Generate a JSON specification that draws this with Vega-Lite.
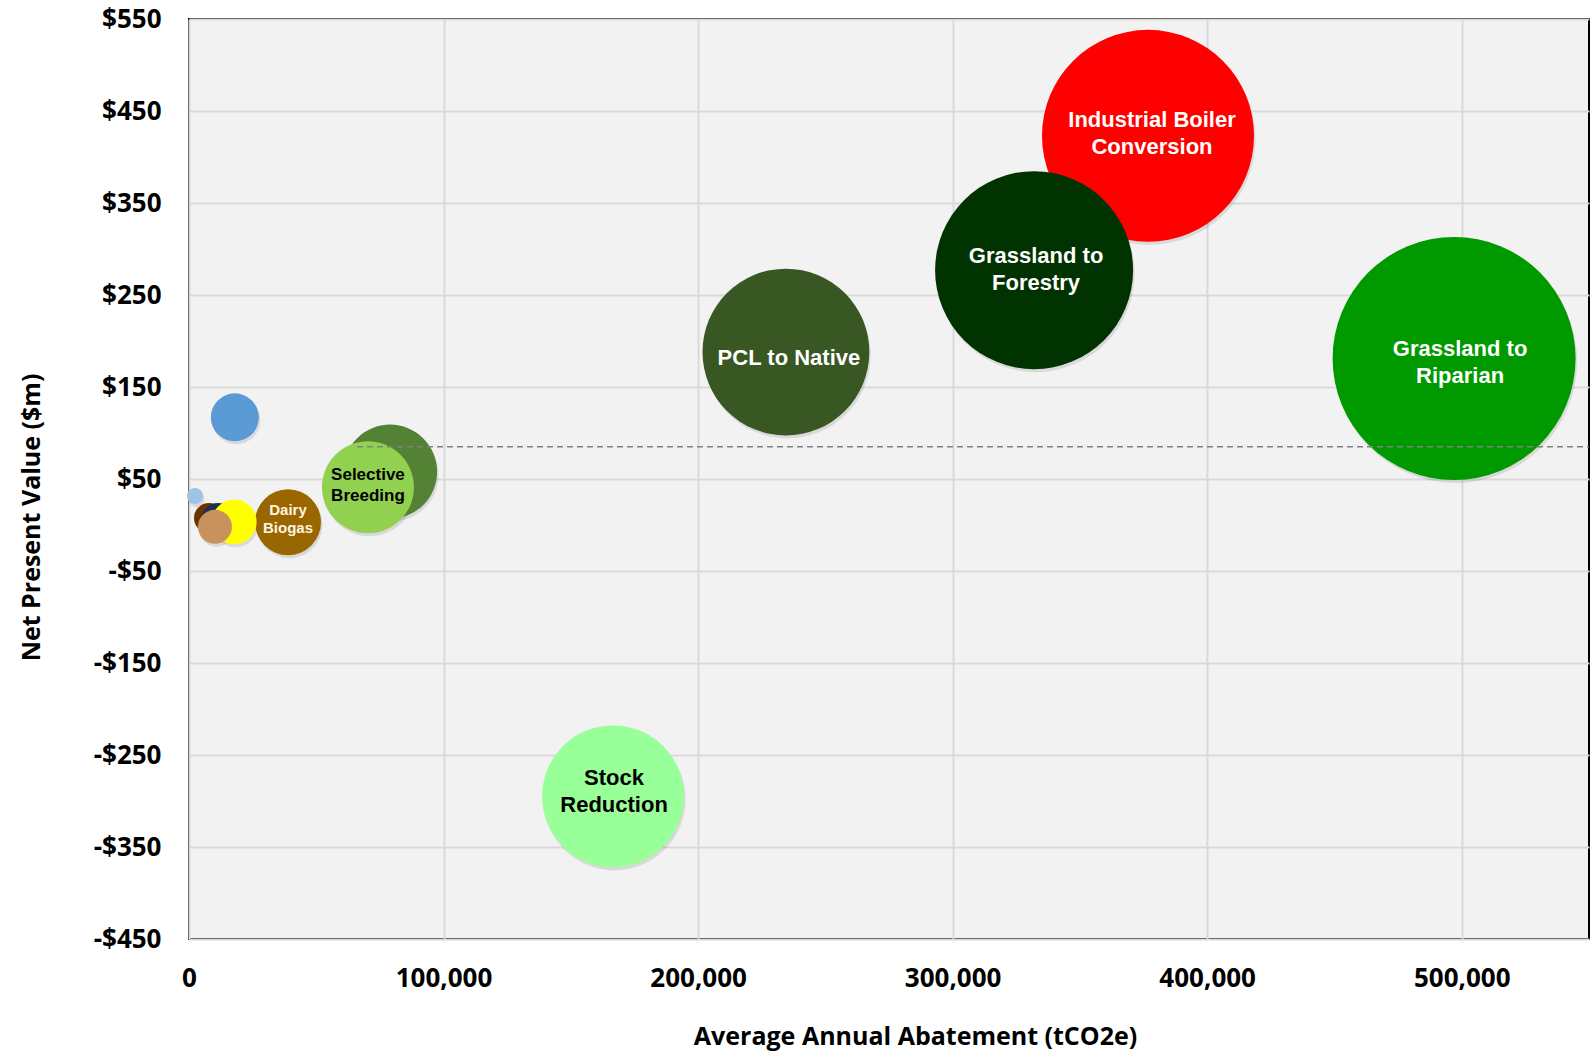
{
  "$schema": "https://vega.github.io/schema/vega-lite/v6.json",
  "autosize": "none",
  "width": 1400,
  "height": 920,
  "padding": {"left": 189, "top": 19, "right": 5, "bottom": 112},
  "background": "#ffffff",
  "config": {
    "view": {"fill": "#f2f2f2", "stroke": "#000000", "strokeWidth": 2},
    "axis": {
      "labelFont": "Open Sans", "labelFontWeight": "bold", "labelFontSize": 26, "labelColor": "#000000",
      "titleFont": "Open Sans", "titleFontWeight": "bold", "titleFontSize": 25, "titleColor": "#000000",
      "gridColor": "#d9d9d9", "gridWidth": 2, "domain": false, "ticks": false, "labelFlush": false
    },
    "text": {"font": "Liberation Sans", "fontWeight": "bold", "align": "center", "baseline": "middle", "lineBreak": "\n"}
  },
  "datasets": {
    "bubbles": [
      {"name": "Grassland to Riparian", "label": "Grassland to\nRiparian", "abatement": 497000, "npv": 181, "bubble": 14762},
      {"name": "Industrial Boiler Conversion", "label": "Industrial Boiler\nConversion", "abatement": 376750, "npv": 423, "bubble": 11236},
      {"name": "Grassland to Forestry", "label": "Grassland to\nForestry", "abatement": 332000, "npv": 277, "bubble": 9801},
      {"name": "PCL to Native", "label": "PCL to Native", "abatement": 234500, "npv": 188, "bubble": 6956},
      {"name": "Stock Reduction", "label": "Stock\nReduction", "abatement": 166600, "npv": -295, "bubble": 5041},
      {"name": "Other Green", "label": "", "abatement": 79000, "npv": 58, "bubble": 2209},
      {"name": "Selective Breeding", "label": "Selective\nBreeding", "abatement": 70300, "npv": 41, "bubble": 2116},
      {"name": "Other Blue", "label": "", "abatement": 18000, "npv": 117, "bubble": 576},
      {"name": "Dairy Biogas", "label": "Dairy\nBiogas", "abatement": 38900, "npv": 3, "bubble": 1089},
      {"name": "Other Brown", "label": "", "abatement": 7860, "npv": 7.6, "bubble": 225},
      {"name": "Other Navy", "label": "", "abatement": 11400, "npv": 5.4, "bubble": 289},
      {"name": "Other Yellow", "label": "", "abatement": 17800, "npv": 3.3, "bubble": 500},
      {"name": "Other Tan", "label": "", "abatement": 10200, "npv": -2, "bubble": 289},
      {"name": "Other Light Blue", "label": "", "abatement": 2360, "npv": 31.5, "bubble": 64}
    ]
  },
  "encoding": {
    "x": {"field": "abatement", "type": "quantitative"},
    "y": {"field": "npv", "type": "quantitative"}
  },
  "layer": [
    {
      "data": {"name": "bubbles"},
      "mark": {"type": "point", "shape": "circle", "filled": true, "opacity": 0.1, "strokeWidth": 0, "color": "#000000", "xOffset": 1.5, "yOffset": 3},
      "encoding": {
        "x": {
          "field": "abatement", "type": "quantitative",
          "scale": {"domain": [0, 550000], "nice": false, "zero": true},
          "axis": {"values": [0, 100000, 200000, 300000, 400000, 500000], "format": ",.0f", "labelPadding": 26,
                   "title": "Average Annual Abatement (tCO2e)", "titleX": 726, "titleY": 105, "titleBaseline": "alphabetic"}
        },
        "y": {
          "field": "npv", "type": "quantitative",
          "scale": {"domain": [-450, 550], "nice": false, "zero": false},
          "axis": {"values": [-450, -350, -250, -150, -50, 50, 150, 250, 350, 450, 550],
                   "labelExpr": "datum.value < 0 ? '-$' + abs(datum.value) : '$' + datum.value",
                   "labelPadding": 28, "title": "Net Present Value ($m)",
                   "titleX": -158, "titleY": 498, "titleAngle": -90, "titleBaseline": "middle", "titleAlign": "center"}
        },
        "size": {"field": "bubble", "type": "quantitative", "scale": {"domain": [0, 15000], "range": [0, 60000]}, "legend": null}
      }
    },
    {
      "data": {"name": "bubbles"},
      "mark": {"type": "point", "shape": "circle", "filled": true, "opacity": 1, "strokeWidth": 0},
      "encoding": {
        "size": {"field": "bubble", "type": "quantitative", "legend": null},
        "color": {
          "field": "name", "type": "nominal", "legend": null,
          "scale": {
            "domain": ["Grassland to Riparian", "Industrial Boiler Conversion", "Grassland to Forestry", "PCL to Native", "Stock Reduction", "Other Green", "Selective Breeding", "Other Blue", "Dairy Biogas", "Other Brown", "Other Navy", "Other Yellow", "Other Tan", "Other Light Blue"],
            "range": ["#009900", "#ff0000", "#003300", "#385723", "#99ff99", "#548235", "#92d050", "#5b9bd5", "#996600", "#6b3300", "#1f3050", "#ffff00", "#c9925c", "#9dc3e6"]
          }
        }
      }
    },
    {
      "data": {"values": [{"start": 66000, "end": 550000, "level": 85}]},
      "mark": {"type": "rule", "color": "#808080", "strokeWidth": 1.5, "strokeDash": [6, 4]},
      "encoding": {
        "x": {"field": "start", "type": "quantitative"},
        "x2": {"field": "end"},
        "y": {"field": "level", "type": "quantitative"}
      }
    },
    {
      "data": {"name": "bubbles"},
      "transform": [{"filter": "datum.name === 'Industrial Boiler Conversion'"}],
      "mark": {"type": "text", "fontSize": 22, "lineHeight": 27, "dx": 4, "dy": -16, "color": "#ffffff"},
      "encoding": {"text": {"field": "label"}}
    },
    {
      "data": {"name": "bubbles"},
      "transform": [{"filter": "datum.name === 'Grassland to Forestry'"}],
      "mark": {"type": "text", "fontSize": 22, "lineHeight": 27, "dx": 2, "dy": -14, "color": "#ffffff"},
      "encoding": {"text": {"field": "label"}}
    },
    {
      "data": {"name": "bubbles"},
      "transform": [{"filter": "datum.name === 'Grassland to Riparian'"}],
      "mark": {"type": "text", "fontSize": 22, "lineHeight": 27, "dx": 6, "dy": -9, "color": "#ffffff"},
      "encoding": {"text": {"field": "label"}}
    },
    {
      "data": {"name": "bubbles"},
      "transform": [{"filter": "datum.name === 'PCL to Native'"}],
      "mark": {"type": "text", "fontSize": 22, "lineHeight": 27, "dx": 3, "dy": 6, "color": "#ffffff"},
      "encoding": {"text": {"field": "label"}}
    },
    {
      "data": {"name": "bubbles"},
      "transform": [{"filter": "datum.name === 'Stock Reduction'"}],
      "mark": {"type": "text", "fontSize": 22, "lineHeight": 27, "dx": 1, "dy": -18, "color": "#000000"},
      "encoding": {"text": {"field": "label"}}
    },
    {
      "data": {"name": "bubbles"},
      "transform": [{"filter": "datum.name === 'Selective Breeding'"}],
      "mark": {"type": "text", "fontSize": 17, "lineHeight": 21, "dy": -12, "color": "#000000"},
      "encoding": {"text": {"field": "label"}}
    },
    {
      "data": {"name": "bubbles"},
      "transform": [{"filter": "datum.name === 'Dairy Biogas'"}],
      "mark": {"type": "text", "fontSize": 15, "lineHeight": 18, "dy": -12, "color": "#fff5e0"},
      "encoding": {"text": {"field": "label"}}
    }
  ]
}
